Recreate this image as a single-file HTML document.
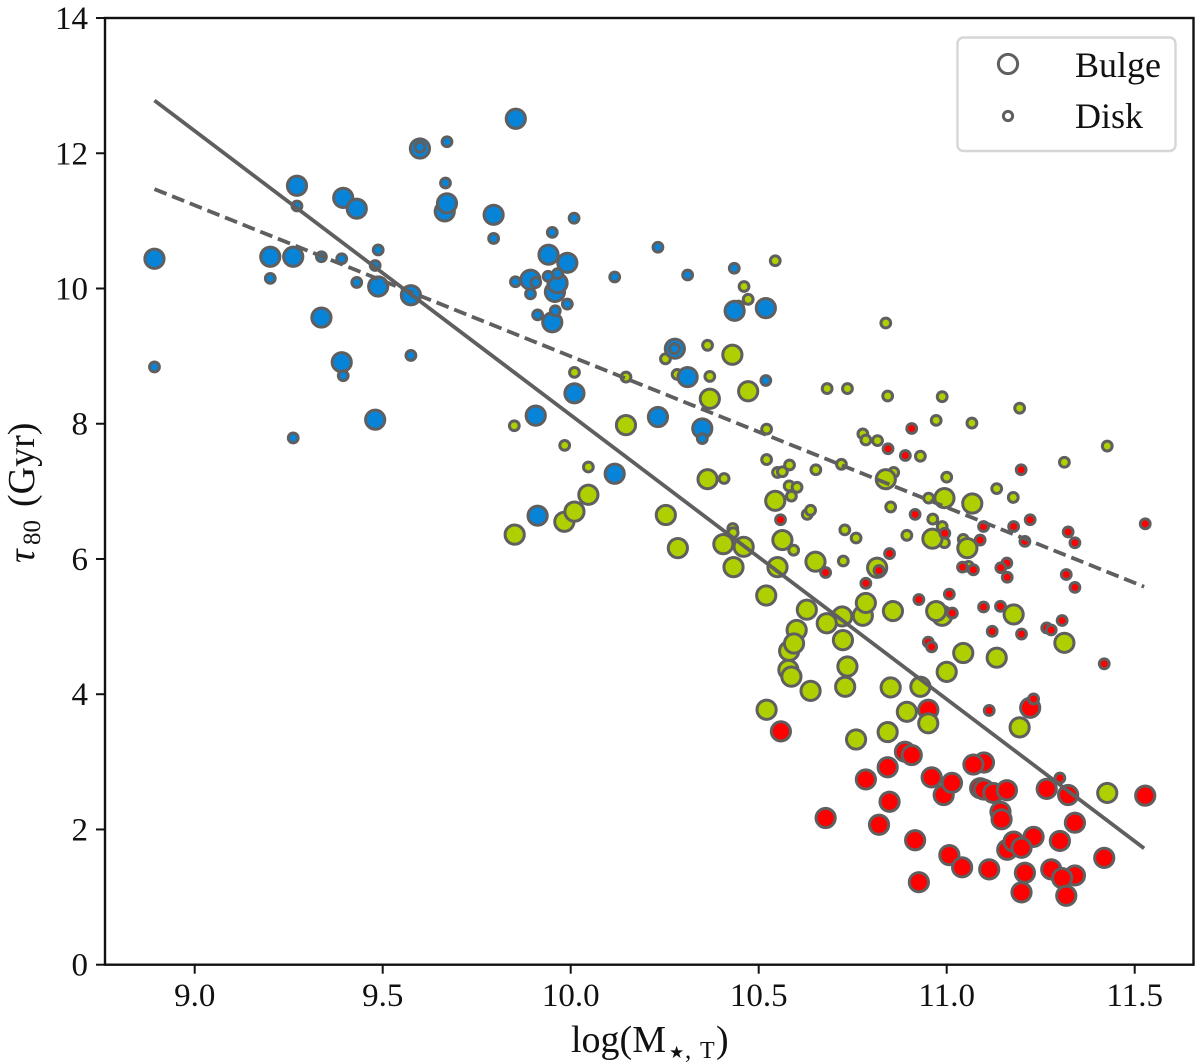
<!DOCTYPE html>
<html lang="en">
<head>
<meta charset="utf-8">
<title>Stellar mass versus tau80</title>
<style>
html,body{margin:0;padding:0;background:#fff;}
svg{display:block;font-family:"Liberation Serif","DejaVu Serif",serif;}
</style>
</head>
<body>
<svg id="chart" xmlns="http://www.w3.org/2000/svg" width="1200" height="1063" viewBox="0 0 1200 1063">
  <rect x="0" y="0" width="1200" height="1063" fill="#fff"/>
  <g id="marks"></g>
  <g id="lines"></g>
  <g id="axes"></g>
  <text y="1052" font-size="38" fill="#111"><tspan x="571">log(M</tspan><tspan x="669" y="1058" font-family="'DejaVu Sans',sans-serif" font-size="17">★</tspan><tspan x="685" y="1058" font-size="25">,</tspan><tspan x="700" y="1058" font-size="24">T</tspan><tspan x="716" y="1052">)</tspan></text>
  <text transform="translate(34,563) rotate(-90)" font-size="38" fill="#111"><tspan font-style="italic">τ</tspan><tspan x="18" y="6" font-size="25">80</tspan><tspan x="56" y="0">(Gyr)</tspan></text>
  <g>
    <rect x="957.5" y="37.5" width="218" height="113.5" rx="6" ry="6" fill="#fff" fill-opacity="0.85" stroke="#d6d6d6" stroke-width="2.4"/>
    <circle cx="1008" cy="64" r="9.6" fill="none" stroke="#5f5f5f" stroke-width="3"/>
    <text x="1075" y="77" font-size="36" fill="#111">Bulge</text>
    <circle cx="1008" cy="116" r="4.6" fill="none" stroke="#5f5f5f" stroke-width="3"/>
    <text x="1075" y="128" font-size="36" fill="#111">Disk</text>
  </g>
</svg>
<script>
const xTicks = [9.0, 9.5, 10.0, 10.5, 11.0, 11.5];
const xTickLabels = ["9.0", "9.5", "10.0", "10.5", "11.0", "11.5"];
const yTicks = [0, 2, 4, 6, 8, 10, 12, 14];
const yTickLabels = ["0", "2", "4", "6", "8", "10", "12", "14"];

const blueBulgeX = [8.893,9.272,9.395,9.431,9.599,9.665,9.671,9.795,9.854,9.201,9.262,9.488,9.575,9.337,9.391,9.480,9.941,9.991,9.893,9.958,9.965,9.951,10.436,10.519,10.277,10.311,10.010,9.907,10.232,10.350,10.117,9.912];
const blueBulgeY = [10.44,11.52,11.34,11.18,12.07,11.14,11.26,11.09,12.51,10.47,10.47,10.03,9.90,9.57,8.91,8.06,10.50,10.38,10.13,9.95,10.08,9.50,9.67,9.71,9.11,8.69,8.45,8.12,8.10,7.93,7.26,6.64];

const blueDiskX = [9.272,9.599,9.671,9.667,9.795,9.201,9.337,9.391,9.488,9.480,9.431,9.575,8.893,9.395,9.262,9.951,10.232,10.435,10.311,10.117,9.853,9.907,9.940,9.965,9.893,9.991,9.912,9.959,10.276,10.519,10.350,10.009];
const blueDiskY = [11.22,12.09,12.17,11.56,10.74,10.15,10.47,10.44,10.57,10.34,10.09,9.01,8.84,8.71,7.79,10.83,10.61,10.30,10.20,10.17,10.10,10.09,10.18,10.22,9.92,9.77,9.61,9.67,9.11,8.64,7.78,11.04];

const greenBulgeX = [10.430,10.472,10.370,10.147,10.364,10.544,10.047,9.983,10.010,9.851,10.253,10.285,10.406,10.460,10.433,10.563,10.550,10.651,10.838,10.994,11.068,10.962,11.055,10.815,10.520,10.628,10.777,10.785,10.857,10.722,10.681,10.988,10.972,11.178,11.313,10.601,10.581,10.594,10.724,11.044,11.133,11.0,10.736,10.579,10.587,10.638,10.730,10.851,10.930,10.521,10.894,10.951,11.194,10.843,10.759,11.427];
const greenBulgeY = [9.02,8.48,8.37,7.98,7.18,6.86,6.95,6.55,6.70,6.36,6.65,6.16,6.22,6.18,5.88,6.28,5.88,5.96,7.18,6.90,6.82,6.30,6.16,5.87,5.46,5.25,5.16,5.35,5.23,5.15,5.05,5.16,5.23,5.18,4.76,4.95,4.64,4.75,4.80,4.61,4.54,4.33,4.41,4.36,4.26,4.05,4.11,4.10,4.11,3.77,3.74,3.57,3.51,3.44,3.33,2.54];

const greenDiskX = [10.544,10.461,10.472,10.446,10.364,10.252,10.283,10.370,10.010,10.147,9.850,10.521,9.984,10.521,10.047,10.408,10.550,10.563,10.582,10.652,10.581,10.602,10.587,10.629,10.638,10.431,10.432,10.593,10.838,10.682,10.736,10.843,10.988,11.194,10.972,11.067,11.427,10.777,10.785,10.816,10.930,10.720,11.313,10.859,11.0,11.133,11.177,10.952,10.851,10.963,10.988,10.894,10.994,11.044,10.729,10.759,10.725,11.058];
const greenDiskY = [10.41,10.03,9.84,9.74,9.16,8.96,8.73,8.70,8.76,8.69,7.97,7.92,7.68,7.47,7.36,7.19,7.28,7.29,7.39,7.32,7.08,7.06,6.93,6.66,6.72,6.45,6.39,6.13,9.49,8.52,8.52,8.41,8.40,8.23,8.05,8.01,7.67,7.85,7.76,7.75,7.52,7.40,7.43,7.28,7.21,7.04,6.91,6.90,6.77,6.59,6.48,6.35,6.24,6.29,6.43,6.31,5.97,5.89];

const redBulgeX = [11.222,10.951,10.559,10.889,10.907,11.099,11.071,10.843,10.960,10.785,10.992,11.014,11.089,11.099,11.124,11.160,11.266,11.323,11.528,10.848,11.143,11.146,10.678,10.820,11.341,10.916,11.301,11.231,11.161,11.178,11.199,11.007,11.419,11.041,11.113,11.208,11.278,11.341,11.307,10.926,11.199,11.318];
const redBulgeY = [3.80,3.77,3.45,3.15,3.10,2.99,2.96,2.92,2.77,2.74,2.51,2.69,2.61,2.59,2.54,2.58,2.60,2.51,2.50,2.41,2.26,2.15,2.17,2.07,2.10,1.84,1.83,1.89,1.70,1.82,1.73,1.62,1.58,1.44,1.41,1.36,1.41,1.32,1.28,1.22,1.07,1.02];

const redDiskX = [10.907,10.844,10.890,11.198,11.528,11.222,10.916,10.558,11.098,11.178,11.323,11.341,10.995,11.089,11.208,10.848,11.042,11.071,11.160,11.144,11.161,11.318,11.341,10.678,10.820,10.785,10.926,11.007,11.015,11.098,11.143,11.121,11.199,11.307,11.266,11.278,10.951,10.960,11.419,11.113,11.231,11.301];
const redDiskY = [7.93,7.63,7.53,7.32,6.52,6.58,6.66,6.58,6.48,6.48,6.40,6.24,6.38,6.28,6.26,6.08,5.88,5.84,5.94,5.87,5.73,5.77,5.58,5.80,5.83,5.64,5.40,5.48,5.20,5.29,5.30,4.93,4.89,5.09,4.98,4.95,4.77,4.70,4.45,3.76,3.93,2.76];

const solidFitX = [8.893, 11.525];
const solidFitY = [12.78, 1.72];
const dashedFitX = [8.893, 11.525];
const dashedFitY = [11.47, 5.59];

const SVGNS = "http://www.w3.org/2000/svg";
const axisLeft = 105, axisRight = 1193.5, axisTop = 18, axisBottom = 964.7;
function xScale(v) { return 194.7 + (v - 9) * 376; }
function yScale(v) { return 964.7 - v * 67.62; }
function make(tag) { return document.createElementNS(SVGNS, tag); }

const marks = document.getElementById("marks");
function drawSeries(xs, ys, radius, fill, name) {
  for (let i = 0; i < xs.length; i++) {
    const c = make("circle");
    
    
    c.setAttribute("cx", xScale(xs[i]));
    c.setAttribute("cy", yScale(ys[i]));
    c.setAttribute("r", radius);
    c.setAttribute("fill", fill);
    c.setAttribute("stroke", "#5f5f5f");
    c.setAttribute("stroke-width", "3");
    marks.appendChild(c);
  }
}
const BULGE_R = 9.6, DISK_R = 4.9;
const BLUE = "#0784d8", GREEN = "#afcf00", RED = "#ff0000";
drawSeries(redBulgeX, redBulgeY, BULGE_R, RED, "red-bulge-point");
drawSeries(greenDiskX, greenDiskY, DISK_R, GREEN, "green-disk-point");
drawSeries(greenBulgeX, greenBulgeY, BULGE_R, GREEN, "green-bulge-point");
drawSeries(blueBulgeX, blueBulgeY, BULGE_R, BLUE, "blue-bulge-point");
drawSeries(blueDiskX, blueDiskY, DISK_R, BLUE, "blue-disk-point");
drawSeries(redDiskX, redDiskY, DISK_R, RED, "red-disk-point");

const lines = document.getElementById("lines");
function drawLine(xs, ys, dash, name) {
  const l = make("line");
  
  
  l.setAttribute("x1", xScale(xs[0]));
  l.setAttribute("y1", yScale(ys[0]));
  l.setAttribute("x2", xScale(xs[1]));
  l.setAttribute("y2", yScale(ys[1]));
  l.setAttribute("stroke", "#5f5f5f");
  l.setAttribute("stroke-width", "3.8");
  if (dash) l.setAttribute("stroke-dasharray", dash);
  lines.appendChild(l);
}
drawLine(solidFitX, solidFitY, null, "bulge-fit-line");
drawLine(dashedFitX, dashedFitY, "13 6", "disk-fit-line");

const axes = document.getElementById("axes");
const frame = make("rect");


frame.setAttribute("x", axisLeft);
frame.setAttribute("y", axisTop);
frame.setAttribute("width", axisRight - axisLeft);
frame.setAttribute("height", axisBottom - axisTop);
frame.setAttribute("fill", "none");
frame.setAttribute("stroke", "#111");
frame.setAttribute("stroke-width", "2.4");
axes.appendChild(frame);

xTicks.forEach(function (t, i) {
  const px = xScale(t);
  const m = make("line");
  
  
  m.setAttribute("x1", px);
  m.setAttribute("x2", px);
  m.setAttribute("y1", axisBottom);
  m.setAttribute("y2", axisBottom + 9);
  m.setAttribute("stroke", "#111");
  m.setAttribute("stroke-width", "2");
  axes.appendChild(m);
  const label = make("text");
  
  
  label.setAttribute("x", px);
  label.setAttribute("y", 1006);
  label.setAttribute("text-anchor", "middle");
  label.setAttribute("font-size", "33");
  label.setAttribute("fill", "#111");
  label.textContent = xTickLabels[i];
  axes.appendChild(label);
});

yTicks.forEach(function (t, i) {
  const py = yScale(t);
  const m = make("line");
  
  
  m.setAttribute("x1", axisLeft - 9);
  m.setAttribute("x2", axisLeft);
  m.setAttribute("y1", py);
  m.setAttribute("y2", py);
  m.setAttribute("stroke", "#111");
  m.setAttribute("stroke-width", "2");
  axes.appendChild(m);
  const label = make("text");
  
  
  label.setAttribute("x", 88);
  label.setAttribute("y", py + 11);
  label.setAttribute("text-anchor", "end");
  label.setAttribute("font-size", "33");
  label.setAttribute("fill", "#111");
  label.textContent = yTickLabels[i];
  axes.appendChild(label);
});
</script>
</body>
</html>
